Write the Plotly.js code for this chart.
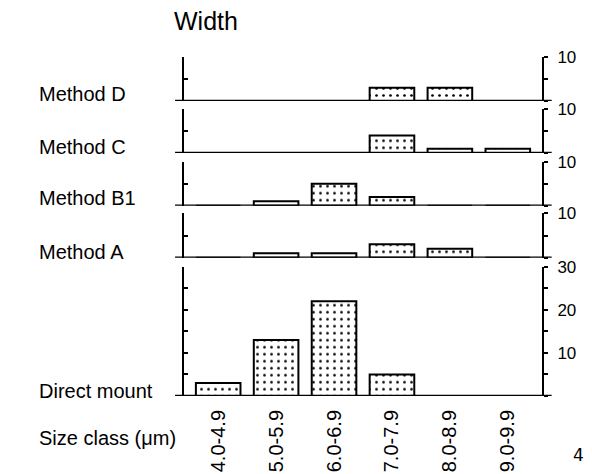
<!DOCTYPE html>
<html><head><meta charset="utf-8">
<script src="https://cdn.plot.ly/plotly-3.0.1.min.js"></script>
<style>html,body{margin:0;padding:0;background:#fff}</style>
</head><body><div id="chart" style="width:592px;height:474px"></div>
<script>
// ---- data ----
const sizeClasses = ['4.0-4.9','5.0-5.9','6.0-6.9','7.0-7.9','8.0-8.9','9.0-9.9'];
const directMount = [3, 13, 22, 5, 0, 0];
const methodA     = [0, 1, 1, 3, 2, 0];
const methodB1    = [0, 1, 5, 2, 0, 0];
const methodC     = [0, 0, 0, 4, 1, 1];
const methodD     = [0, 0, 0, 3, 3, 0];
const panelNames  = ['Direct mount', 'Method A', 'Method B1', 'Method C', 'Method D'];
const panelSeries = [directMount, methodA, methodB1, methodC, methodD];
const panelMax    = [30, 10, 10, 10, 10];
const panelTickVals  = [[0,5,10,15,20,25,30],[0,5,10],[0,5,10],[0,5,10],[0,5,10]];
const panelTickText  = [['','','10','','20','','30'],['','','10'],['','','10'],['','','10'],['','','10']];
const titleText = 'Width';
const xAxisLabel = 'Size class (\u03bcm)';

// ---- layout geometry ----
const domains = [[0,0.3814],[0.408,0.5389],[0.5614,0.6912],[0.7168,0.8457],[0.8702,1]];
const labelY  = [0.016, 0.4257, 0.5831, 0.7354, 0.8905];
const FONT = 'Liberation Sans, Arial, Helvetica, sans-serif';

const traces = [];
const layout = {
  width: 592, height: 474,
  margin: {l: 184, r: 50, t: 57, b: 78},
  paper_bgcolor: '#fff', plot_bgcolor: 'rgba(0,0,0,0)',
  showlegend: false,
  bargap: 0.23,
  font: {family: FONT, color: '#000'},
  xaxis: {
    domain: [0,1], anchor: 'y', type: 'category',
    range: [-0.59, 5.59],
    showline: false, showgrid: false, zeroline: false,
    ticks: '', tickangle: -90,
    tickfont: {family: FONT, size: 20, color: '#000'},
    ticklabelstandoff: 9,
    fixedrange: true
  },
  shapes: [], annotations: []
};

panelNames.forEach((name, i) => {
  const leftId = i === 0 ? '' : String(2*i + 1);
  const rightId = String(2*i + 2);
  const leftKey = 'yaxis' + leftId, rightKey = 'yaxis' + rightId;
  const leftRef = 'y' + leftId, rightRef = 'y' + rightId;
  layout[leftKey] = {
    domain: domains[i], anchor: 'x', side: 'left',
    range: [0, panelMax[i]],
    showline: true, linewidth: 2, linecolor: '#000',
    ticks: 'inside', ticklen: 4, tickwidth: 2, tickcolor: '#000',
    tickvals: panelTickVals[i], showticklabels: false,
    showgrid: false, zeroline: false, fixedrange: true
  };
  layout[rightKey] = {
    overlaying: leftRef, anchor: 'x', side: 'right',
    range: [0, panelMax[i]],
    showline: true, linewidth: 2, linecolor: '#000',
    ticks: 'outside', ticklen: 4, tickwidth: 2, tickcolor: '#000',
    tickvals: panelTickVals[i], ticktext: panelTickText[i],
    tickfont: {family: FONT, size: 17, color: '#000'},
    ticklabelstandoff: 6,
    showgrid: false, zeroline: false, fixedrange: true
  };
  traces.push({
    type: 'bar', x: sizeClasses, y: panelSeries[i],
    xaxis: 'x', yaxis: leftRef,
    marker: {
      color: '#fff',
      line: {color: '#000', width: 2},
      pattern: {shape: '.', fgcolor: '#000', bgcolor: '#fff', size: 7, solidity: 0.12}
    },
    hoverinfo: 'skip'
  });
  traces.push({
    type: 'scatter', mode: 'markers', x: sizeClasses, y: panelSeries[i].map(() => 0),
    xaxis: 'x', yaxis: rightRef, marker: {opacity: 0}, hoverinfo: 'skip'
  });
  layout.shapes.push({
    type: 'line', xref: 'paper', yref: leftRef,
    x0: -0.025, x1: 1.027, y0: 0, y1: 0,
    line: {color: '#000', width: 2.5}
  });
  layout.annotations.push({
    text: name, xref: 'paper', yref: 'paper',
    x: -0.4115, y: labelY[i], xanchor: 'left', yanchor: 'middle',
    showarrow: false, font: {family: FONT, size: 20, color: '#000'}
  });
});

layout.annotations.push({
  text: xAxisLabel, xref: 'paper', yref: 'paper',
  x: -0.4115, y: -0.1248, xanchor: 'left', yanchor: 'middle',
  showarrow: false, font: {family: FONT, size: 20, color: '#000'}
});
layout.annotations.push({
  text: titleText, xref: 'paper', yref: 'paper',
  x: -0.0344, y: 1.106, xanchor: 'left', yanchor: 'middle',
  showarrow: false, font: {family: FONT, size: 25, color: '#000'}
});
layout.annotations.push({
  text: '4', xref: 'paper', yref: 'paper',
  x: 1.1006, y: -0.174, xanchor: 'center', yanchor: 'middle',
  showarrow: false, font: {family: 'DejaVu Sans, sans-serif', size: 17, color: '#000'}
});

Plotly.newPlot('chart', traces, layout, {displayModeBar: false, staticPlot: true});
</script>
</body></html>
